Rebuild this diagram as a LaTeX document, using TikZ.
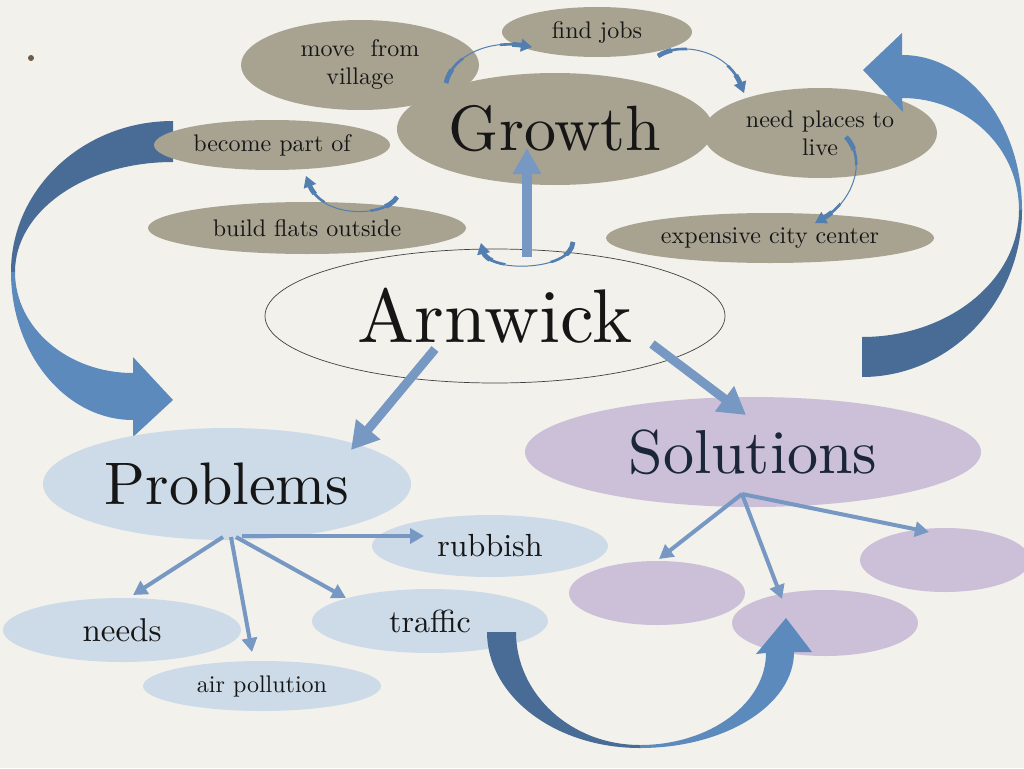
\documentclass[tikz,border=0pt]{standalone}
\usepackage{fontspec}
\setmainfont{lmroman10-regular.otf}
\usetikzlibrary{shapes.geometric,arrows.meta,calc}
\definecolor{bg}{RGB}{243,241,236}
\definecolor{taupe}{RGB}{168,163,145}
\definecolor{pblue}{RGB}{205,219,233}
\definecolor{lav}{RGB}{203,192,216}
\definecolor{arr}{RGB}{118,152,195}
\definecolor{carr}{RGB}{82,126,176}
\definecolor{bigdark}{RGB}{72,108,150}
\definecolor{biglight}{RGB}{92,138,188}
\definecolor{txt}{RGB}{22,22,22}
\definecolor{navy}{RGB}{27,38,58}
\definecolor{dotc}{RGB}{110,90,70}
\tikzset{
  el/.style={ellipse, inner sep=0pt, outer sep=0pt, text=txt, align=center},
  grey/.style={el, fill=taupe, font=\fontsize{24}{28}\selectfont},
  pb/.style={el, fill=pblue},
  lv/.style={el, fill=lav},
  bigarr/.style={draw=arr, line width=9pt, -{Triangle[width=30pt,length=27pt]}},
  smallarr/.style={draw=arr, line width=4pt, -{Triangle[width=15pt,length=14pt]}},
  cthin/.style={draw=carr, line width=1pt, -{Triangle[width=13pt,length=11pt]}},
  cmid/.style={draw=carr, line width=2.6pt, shorten >=9pt},
  cfat/.style={draw=carr, line width=4.8pt, shorten >=9pt},
}
\newcommand{\twarr}[4]{%
  \draw[cthin] (#1) .. controls (#2) and (#3) .. (#4);
  \begin{scope}
    \clip (#1) circle (30pt) (#4) circle (32pt);
    \draw[cmid] (#1) .. controls (#2) and (#3) .. (#4);
  \end{scope}
  \begin{scope}
    \clip (#1) circle (15pt) (#4) circle (20pt);
    \draw[cfat] (#1) .. controls (#2) and (#3) .. (#4);
  \end{scope}
}
\begin{document}
\begin{tikzpicture}[x=1pt,y=-1pt]
\useasboundingbox (0,0) rectangle (1024,768);
\fill[bg] (0,0) rectangle (1024,768);
\fill[dotc] (31,58) circle (3);

% left big arrow (behind)
\fill[bigdark] (173,121) .. controls (83,121) and (11,189) .. (11,272) -- (15,272) .. controls (15,211) and (85,162) .. (173,162) -- cycle;
\fill[biglight] (11,272) .. controls (11,354) and (66,420) .. (133,420) -- (133,437) -- (173,400) -- (133,357) -- (133,373) .. controls (68,373) and (15,328) .. (15,272) -- cycle;

% grey ellipses
\node[grey, minimum width=238pt, minimum height=90pt] (mv) at (360,65) {move~ from\\village};
\node[grey, minimum width=190pt, minimum height=50pt] (fj) at (597,32) {find jobs};
\node[grey, minimum width=234pt, minimum height=90pt] (np) at (820,133) {need places to\\live};
\node[grey, minimum width=316pt, minimum height=112pt, font=\fontsize{64}{70}\selectfont] (gr) at (555,129) {Growth};
\node[grey, minimum width=236pt, minimum height=50pt] (bp) at (272,145) {become part of};
\node[grey, minimum width=318pt, minimum height=52pt] (bf) at (307,228) {build flats outside};
\node[grey, minimum width=328pt, minimum height=50pt] (ec) at (770,238) {expensive city center};

% Arnwick
\node[el, draw=black!75, line width=0.7pt, minimum width=460pt, minimum height=134pt, font=\fontsize{76}{80}\selectfont] (arn) at (495,316) {Arnwick};

% thin curved arrows
\coordinate (c1a) at (446,83); \coordinate (c1b) at (532,47);
\coordinate (c2a) at (658,56); \coordinate (c2b) at (744,93);
\coordinate (c3a) at (846,137); \coordinate (c3b) at (815,223);
\coordinate (c4a) at (397,197); \coordinate (c4b) at (306,176);
\coordinate (c5a) at (573,242); \coordinate (c5b) at (481,243);
\twarr{c1a}{452,55}{490,40}{c1b}
\twarr{c2a}{682,40}{728,52}{c2b}
\twarr{c3a}{868,160}{852,202}{c3b}
\twarr{c4a}{385,218}{322,218}{c4b}
\twarr{c5a}{571,272}{488,272}{c5b}

% Arnwick -> Growth
\coordinate (ag0) at (527,257); \coordinate (ag1) at (527,148);
\draw[bigarr, line width=10pt, -{Triangle[width=27pt,length=26pt]}] (ag0) -- (ag1);

% Problems / Solutions
\node[pb, minimum width=368pt, minimum height=112pt, font=\fontsize{60}{66}\selectfont] (pr) at (227,484) {Problems};
\node[lv, minimum width=456pt, minimum height=110pt, font=\fontsize{62}{68}\selectfont, text=navy] (so) at (753,452) {Solutions};

\node[pb, minimum width=236pt, minimum height=62pt, font=\fontsize{32}{36}\selectfont] (ru) at (490,546) {rubbish};
\node[pb, minimum width=238pt, minimum height=64pt, font=\fontsize{33}{36}\selectfont] (ne) at (122,630) {needs};
\node[pb, minimum width=238pt, minimum height=50pt, font=\fontsize{24}{28}\selectfont] (ap) at (262,686) {air pollution};
\node[pb, minimum width=236pt, minimum height=64pt, font=\fontsize{32}{36}\selectfont] (tr) at (430,621) {traffic};

\node[lv, minimum width=176pt, minimum height=64pt] (s1) at (657,593) {};
\node[lv, minimum width=186pt, minimum height=66pt] (s2) at (825,623) {};
\node[lv, minimum width=170pt, minimum height=64pt] (s3) at (945,560) {};

% Arnwick -> Problems / Solutions
\coordinate (ap0) at (435,349); \coordinate (ap1) at (351,450);
\coordinate (as0) at (652,344); \coordinate (as1) at (746,415);
\draw[bigarr] (ap0) -- (ap1);
\draw[bigarr] (as0) -- (as1);

% problem fan
\coordinate (pf0) at (223,537); \coordinate (pf1) at (231,537); \coordinate (pf2) at (236,537); \coordinate (pf3) at (242,536);
\coordinate (ne1) at (133,595); \coordinate (ap2) at (252,652); \coordinate (tr1) at (346,598); \coordinate (ru1) at (424,536);
\draw[smallarr] (pf0) -- (ne1);
\draw[smallarr] (pf1) -- (ap2);
\draw[smallarr] (pf2) -- (tr1);
\draw[smallarr] (pf3) -- (ru1);

% solution fan
\coordinate (sf0) at (742,494);
\coordinate (s1t) at (659,559); \coordinate (s2t) at (782,599); \coordinate (s3t) at (929,532);
\draw[smallarr] (sf0) -- (s1t);
\draw[smallarr] (sf0) -- (s2t);
\draw[smallarr] (sf0) -- (s3t);

% bottom big arrow
\fill[bigdark] (487,632) .. controls (487,696) and (555,748) .. (640,748) -- (640,745) .. controls (571,745) and (516,694) .. (516,632) -- cycle;
\fill[biglight] (640,748) .. controls (725,748) and (794,705) .. (794,652) -- (812,652) -- (786,618) -- (756,654) -- (766,653) .. controls (766,703) and (710,745) .. (640,745) -- cycle;

% right big arrow
\fill[bigdark] (862,377) .. controls (950,377) and (1022,302) .. (1022,210) -- (1019,210) .. controls (1019,280) and (949,337) .. (862,337) -- cycle;
\fill[biglight] (1022,210) .. controls (1022,124) and (968,55) .. (902,55) -- (902,33) -- (863,70) -- (903,112) -- (902,98) .. controls (967,98) and (1019,148) .. (1019,210) -- cycle;
\end{tikzpicture}
\end{document}
